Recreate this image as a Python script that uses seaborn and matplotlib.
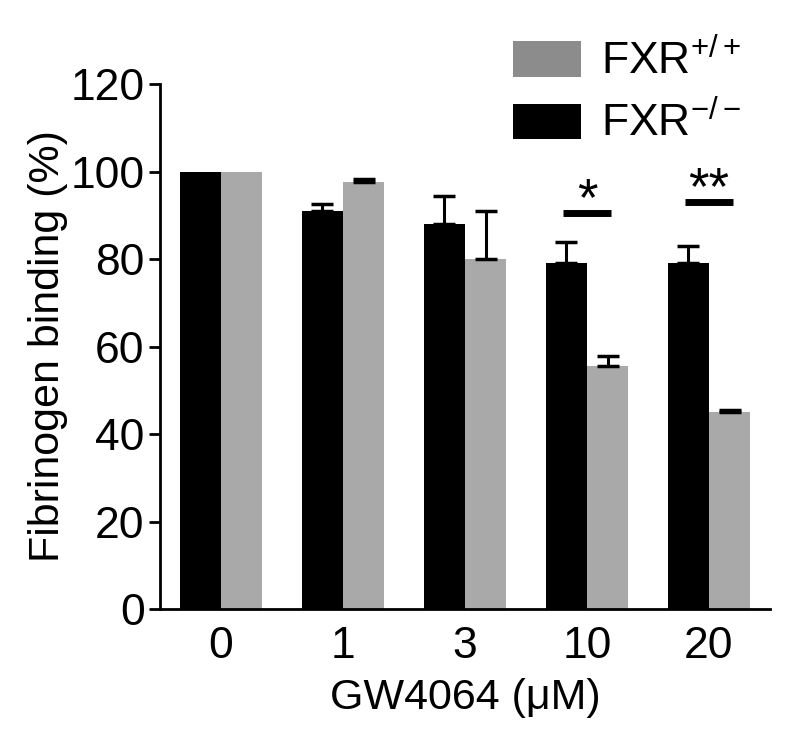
import numpy as np
import pandas as pd
import seaborn as sns
import matplotlib
matplotlib.use("Agg")
import matplotlib.pyplot as plt
from matplotlib.patches import Patch

doses = ["0", "1", "3", "10", "20"]
ko_mean = [100, 91, 88, 79, 79]
ko_err = [0, 1.5, 6.5, 5, 4]
wt_mean = [100, 97.5, 80, 55.5, 45]
wt_err = [0, 0.7, 11, 2.3, 0.4]
groups = ["FXR-/-", "FXR+/+"]
sig_doses = ["10", "20"]
sig_text = ["*", "**"]
sig_y = [90.5, 93]

sns.set_theme(style="ticks")
plt.rcParams['font.family'] = ['Liberation Sans', 'DejaVu Sans']
plt.rcParams['mathtext.fontset'] = 'custom'
plt.rcParams['mathtext.rm'] = 'Liberation Sans'
plt.rcParams['mathtext.it'] = 'Liberation Sans'
plt.rcParams['text.color'] = 'black'
plt.rcParams['axes.labelcolor'] = 'black'
plt.rcParams['xtick.color'] = 'black'
plt.rcParams['ytick.color'] = 'black'

df = pd.DataFrame({
    "dose": doses * 2,
    "value": ko_mean + wt_mean,
    "err": ko_err + wt_err,
    "geno": [groups[0]] * 5 + [groups[1]] * 5,
})

fig = plt.figure(figsize=(8, 7.5), dpi=100)
ax = fig.add_axes([0.2, 0.188, 0.7625, 0.7])
palette = {groups[0]: "#000000", groups[1]: "#a9a9a9"}
sns.barplot(data=df, x="dose", y="value", hue="geno", order=doses,
            hue_order=groups, palette=palette, width=0.68, ax=ax,
            edgecolor="none", linewidth=0, legend=False, saturation=1)

# error bars (upper only)
for cont, g in zip(ax.containers, groups):
    sub = df[df.geno == g].set_index("dose").loc[doses]
    xs = [p.get_x() + p.get_width() / 2 for p in cont.patches]
    ys = sub["value"].values
    es = sub["err"].values
    mask = es > 0
    ax.errorbar(np.array(xs)[mask], ys[mask], yerr=[np.zeros(mask.sum()), es[mask]],
                fmt="none", ecolor="black", elinewidth=2.2, capsize=8, capthick=2.5, zorder=3)

# significance
for d, t, y in zip(sig_doses, sig_text, sig_y):
    i = doses.index(d)
    ax.plot([i - 0.2, i + 0.2], [y, y], color="black", lw=5, solid_capstyle="butt")
    ax.text(i, y - 3.0, t, ha="center", va="bottom", fontsize=38)

ax.set_ylim(0, 120)
ax.set_xlim(-0.5, 4.5)
ax.set_yticks([0, 20, 40, 60, 80, 100, 120])
ax.tick_params(axis="y", labelsize=32, width=2, length=8, pad=3)
ax.tick_params(axis="x", labelsize=32, length=0, pad=12)
ax.set_ylabel("Fibrinogen binding (%)", fontsize=31, labelpad=2)
ax.set_xlabel("GW4064 (μM)", fontsize=31, labelpad=8)
for s in ["left", "bottom"]:
    ax.spines[s].set_linewidth(2)
    ax.spines[s].set_color("black")
sns.despine(ax=ax)

handles = [Patch(facecolor="#8c8c8c", edgecolor="none", label=r"FXR$^{+/+}$"),
           Patch(facecolor="#000000", edgecolor="none", label=r"FXR$^{-/-}$")]
fig.legend(handles=handles, loc="upper left", bbox_to_anchor=(513 / 800, 1 - 39 / 750),
           frameon=False, fontsize=32, handlelength=1.52, handleheight=0.84,
           handletextpad=0.45, labelspacing=0.4, borderpad=0, borderaxespad=0)

fig.savefig("out.png", dpi=100)
